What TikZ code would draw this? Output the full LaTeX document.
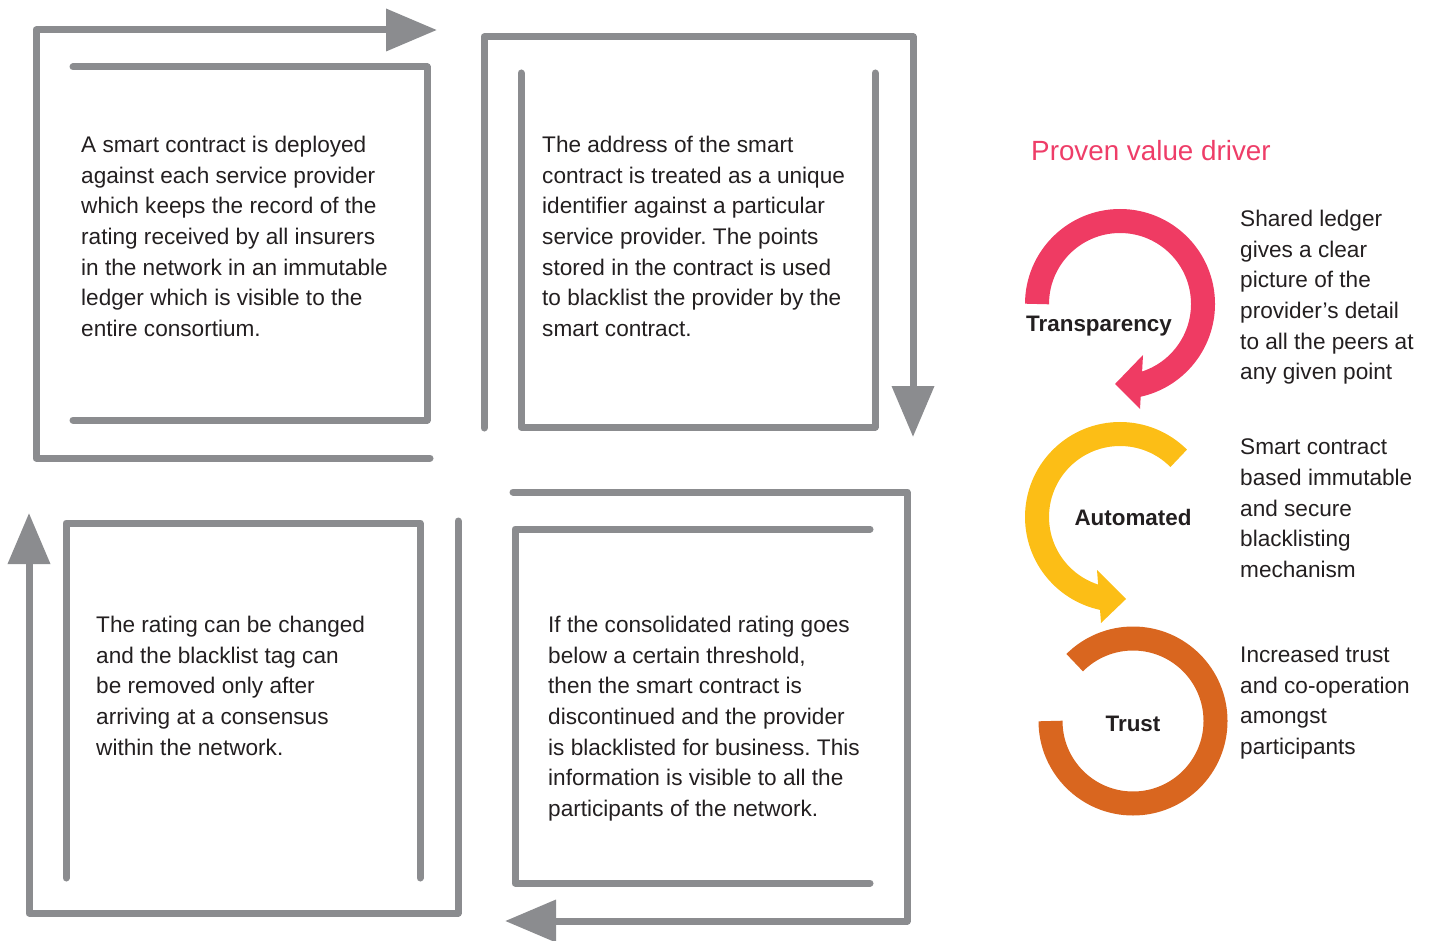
\documentclass[tikz,border=0pt]{standalone}
\usepackage{fontspec}
\setmainfont{Liberation Sans}
\usetikzlibrary{arrows.meta,calc}
\definecolor{gl}{HTML}{8B8C8F}
\definecolor{textc}{HTML}{231F20}
\definecolor{pinkc}{HTML}{EF3B63}
\definecolor{yellowc}{HTML}{FCBE16}
\definecolor{orangec}{HTML}{D9661F}
\definecolor{titlec}{HTML}{EE3D68}
\frenchspacing
\begin{document}
\begin{tikzpicture}[x=1pt,y=1pt,
  gline/.style={draw=gl, line width=7pt, line cap=round, line join=round},
  garrow/.style={gline, -{Triangle[length=51pt,width=41pt]}},
  txt/.style={anchor=north west, inner sep=0pt, align=left, text=textc, font=\fontsize{22.6}{30.67}\selectfont\frenchspacing},
  lbl/.style={inner sep=0pt, text=textc, font=\bfseries\fontsize{22.4}{26}\selectfont},
  ring/.style={line width=24pt, line cap=butt}]
\useasboundingbox (0,0) rectangle (1434,-941);
% ---- box 1 (top left)
\coordinate (a1) at (430,-458); \coordinate (a2) at (36,-458);
\coordinate (a3) at (36,-30);   \coordinate (a4) at (437,-30);
\draw[garrow] (a1) -- (a2) -- (a3) -- (a4);
\coordinate (b1) at (73,-67); \coordinate (b2) at (427,-67);
\coordinate (b3) at (427,-420); \coordinate (b4) at (73,-420);
\draw[gline] (b1) -- (b2) -- (b3) -- (b4);
\node[txt] (t1) at (81,-136) {A smart contract is deployed\\against each service provider\\which keeps the record of the\\rating received by all insurers\\in the network in an immutable\\ledger which is visible to the\\entire consortium.};
% ---- box 2 (top right)
\coordinate (c1) at (484,-428); \coordinate (c2) at (484,-37);
\coordinate (c3) at (913,-37);  \coordinate (c4) at (913,-437);
\draw[garrow] (c1) -- (c2) -- (c3) -- (c4);
\coordinate (d1) at (521,-73); \coordinate (d2) at (521,-427);
\coordinate (d3) at (875,-427); \coordinate (d4) at (875,-73);
\draw[gline] (d1) -- (d2) -- (d3) -- (d4);
\node[txt] (t2) at (542,-136) {The address of the smart\\contract is treated as a unique\\identifier against a particular\\service provider. The points\\stored in the contract is used\\to blacklist the provider by the\\smart contract.};
% ---- box 3 (bottom left)
\coordinate (e1) at (458,-521); \coordinate (e2) at (458,-913);
\coordinate (e3) at (29,-913);  \coordinate (e4) at (29,-513);
\draw[garrow] (e1) -- (e2) -- (e3) -- (e4);
\coordinate (f1) at (66,-878); \coordinate (f2) at (66,-523);
\coordinate (f3) at (420,-523); \coordinate (f4) at (420,-878);
\draw[gline] (f1) -- (f2) -- (f3) -- (f4);
\node[txt] (t3) at (96,-616) {The rating can be changed\\and the blacklist tag can\\be removed only after\\arriving at a consensus\\within the network.};
% ---- box 4 (bottom right)
\coordinate (g1) at (513,-492); \coordinate (g2) at (907,-492);
\coordinate (g3) at (907,-921); \coordinate (g4) at (505,-921);
\draw[garrow] (g1) -- (g2) -- (g3) -- (g4);
\coordinate (h1) at (870,-529); \coordinate (h2) at (515,-529);
\coordinate (h3) at (515,-883); \coordinate (h4) at (870,-883);
\draw[gline] (h1) -- (h2) -- (h3) -- (h4);
\node[txt] (t4) at (548,-616) {If the consolidated rating goes\\below a certain threshold,\\then the smart contract is\\discontinued and the provider\\is blacklisted for business. This\\information is visible to all the\\participants of the network.};
% ---- right side
\node[anchor=west, inner sep=0pt, text=titlec, font=\fontsize{27.8}{30}\selectfont] (title) at (1031,-151) {Proven value driver};
% Transparency ring
\coordinate (pc) at (1120,-304);
\draw[ring, pinkc] ($(pc)+(180:83)$) arc[start angle=180, end angle=-78, radius=83];
\coordinate (pa1) at (1143,-355); \coordinate (pa2) at (1140,-409); \coordinate (pa3) at (1115,-384);
\fill[pinkc] (pa1) -- (pa2) -- (pa3) -- cycle;
\node[lbl, anchor=west] (tp) at (1026,-326) {Transparency};
% Automated ring
\coordinate (ac) at (1120,-517);
\draw[ring, yellowc] ($(ac)+(45:83)$) arc[start angle=45, end angle=260, radius=83];
\coordinate (ya1) at (1097,-570); \coordinate (ya2) at (1101,-623); \coordinate (ya3) at (1126,-599);
\fill[yellowc] (ya1) -- (ya2) -- (ya3) -- cycle;
\node[lbl] (au) at (1133,-517) {Automated};
% Trust ring
\coordinate (tc) at (1133,-721);
\draw[ring, orangec] ($(tc)+(180:82.5)$) arc[start angle=180, end angle=495, radius=82.5];
\node[lbl] (tr) at (1133,-724) {Trust};
% right texts
\node[txt] (r1) at (1240,-210) {Shared ledger\\gives a clear\\picture of the\\provider’s detail\\to all the peers at\\any given point};
\node[txt] (r2) at (1240,-439) {Smart contract\\based immutable\\and secure\\blacklisting\\mechanism};
\node[txt] (r3) at (1240,-646) {Increased trust\\and co-operation\\amongst\\participants};
\end{tikzpicture}
\end{document}
